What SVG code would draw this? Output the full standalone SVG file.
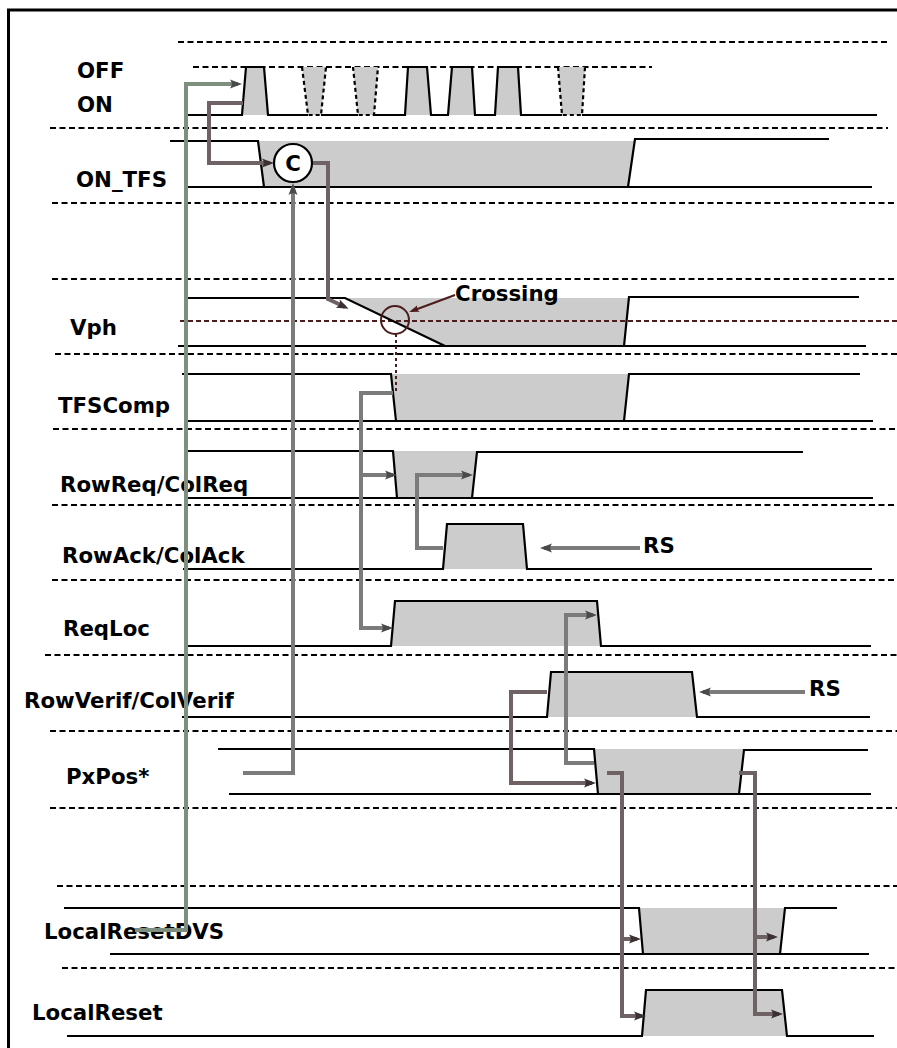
<svg xmlns="http://www.w3.org/2000/svg" width="897" height="1048" viewBox="0 0 897 1048">
<defs>
<style>
.lbl{font-family:"DejaVu Sans","Noto Sans",sans-serif;font-weight:bold;font-size:21.3px;fill:#000}
.sig{fill:none;stroke:#000;stroke-width:2.2;stroke-linejoin:miter}
.gf{fill:#cccccc;stroke:none}
.grid{fill:none;stroke:#000;stroke-width:2;stroke-dasharray:6,3.5}
.dp{fill:none;stroke:#000;stroke-width:2.2;stroke-dasharray:4,3}
.cg{fill:none;stroke:#7b7b7b;stroke-width:4;marker-end:url(#aG)}
.cm{fill:none;stroke:#6e6265;stroke-width:4;marker-end:url(#aM)}
.cgr{fill:none;stroke:#7e8e7f;stroke-width:4;marker-end:url(#aG)}
.red{fill:none;stroke:#4d1c1c;stroke-width:2}
</style>
<marker id="aG" viewBox="-9 -5 14 10" refX="0" refY="0" markerWidth="14" markerHeight="10" markerUnits="userSpaceOnUse" orient="auto"><path d="M4,0 L-8,-4.5 Q-4.5,0 -8,4.5 Z" fill="#4a4a4a"/></marker>
<marker id="aM" viewBox="-9 -5 14 10" refX="0" refY="0" markerWidth="14" markerHeight="10" markerUnits="userSpaceOnUse" orient="auto"><path d="M4,0 L-8,-4.5 Q-4.5,0 -8,4.5 Z" fill="#3b3032"/></marker>
<marker id="aR" viewBox="-9 -5 14 10" refX="0" refY="0" markerWidth="14" markerHeight="10" markerUnits="userSpaceOnUse" orient="auto"><path d="M3,0 L-7,-3.5 Q-4,0 -7,3.5 Z" fill="#4d1c1c"/></marker>
</defs>

<rect x="0" y="0" width="897" height="1048" fill="#fff"/>
<rect x="8.5" y="10" width="900" height="1060" fill="none" stroke="#000" stroke-width="3"/>

<g id="grid">
<path class="grid" d="M178,42H890 M50,128H888 M52,203H897 M52,279H897 M55,354H897 M53,429H897 M52,505H897 M52,580H897 M45,655H897 M50,731H897 M50,808H897 M57,886H897 M62,968H897"/>
</g>

<g id="sig-onoff">
<path class="grid" d="M193,67H652"/>
<path class="gf" d="M242,115L246,67H264L268,115Z M405,115L408,67H427L431,115Z M448,115L452,67H472L475,115Z M495,115L498,67H518L521,115Z"/>
<path class="gf" d="M302,67H326L321,115H308Z M353,67H378L374,115H358Z M558,67H585L582,115H562Z"/>
<path class="dp" d="M302,67L308,115H321L326,67 M353,67L358,115H374L378,67 M558,67L562,115H582L585,67"/>
<path class="sig" d="M185,115H242L246,67H264L268,115H308 M321,115H358 M374,115H405L408,67H427L431,115H448L452,67H472L475,115H495L498,67H518L521,115H562 M582,115H877"/>
<text class="lbl" x="77" y="78">OFF</text>
<text class="lbl" x="77" y="112">ON</text>
</g>

<g id="sig-ontfs">
<path class="gf" d="M258,141H635L628,187H264Z"/>
<path class="sig" d="M170,141H258L264,187 M185,187H872 M628,187L635,139H829"/>
<text class="lbl" x="76" y="187">ON_TFS</text>
</g>

<g id="sig-vph">
<path class="gf" d="M345,298H629L624,346H445Z"/>
<path class="red" stroke-dasharray="5,3" d="M180,321H897"/>
<path class="sig" d="M185,298H345L445,346 M178,346H866 M624,346L629,297H859"/>
<text class="lbl" x="70" y="335">Vph</text>
</g>

<g id="sig-tfscomp">
<path class="gf" d="M391,374H629L624,421H396Z"/>
<path class="sig" d="M182,374H391L396,421 M185,421H873 M624,421L629,374H860"/>
<text class="lbl" x="58" y="413">TFSComp</text>
</g>

<g id="sig-rowreq">
<path class="gf" d="M393,451H477L472,498H397Z"/>
<path class="sig" d="M188,451H393L397,498 M185,498H873 M472,498L477,452H803"/>
<text class="lbl" x="60" y="492">RowReq/ColReq</text>
</g>

<g id="sig-rowack">
<path class="gf" d="M443,569L447,524H523L527,569Z"/>
<path class="sig" d="M183,569H443L447,524H523L527,569H872"/>
<text class="lbl" x="62" y="563">RowAck/ColAck</text>
</g>

<g id="sig-reqloc">
<path class="gf" d="M391,646L395,601H597L601,646Z"/>
<path class="sig" d="M188,646H391L395,601H597L601,646H871"/>
<text class="lbl" x="63" y="636">ReqLoc</text>
</g>

<g id="sig-rowverif">
<path class="gf" d="M547,717L551,672H692L697,717Z"/>
<path class="sig" d="M182,717H547L551,672H692L697,717H870"/>
<text class="lbl" x="24" y="708">RowVerif/ColVerif</text>
</g>

<g id="sig-pxpos">
<path class="gf" d="M594,749H744L739,794H598Z"/>
<path class="sig" d="M218,749H594L598,794 M229,794H871 M739,794L744,750H868"/>
<text class="lbl" x="66" y="784">PxPos*</text>
</g>

<g id="sig-localresetdvs">
<path class="gf" d="M639,908H785L780,954H643Z"/>
<path class="sig" d="M64,908H639L643,954 M110,954H869 M780,954L785,908H837"/>
<text class="lbl" x="44" y="939">LocalResetDVS</text>
</g>

<g id="sig-localreset">
<path class="gf" d="M642,1036L646,990H782L787,1036Z"/>
<path class="sig" d="M67,1036H642L646,990H782L787,1036H874"/>
<text class="lbl" x="32" y="1020">LocalReset</text>
</g>

<g id="connectors">
<path class="cgr" d="M135,930H186V84H238"/>
<path class="cm" d="M243,103H209V163H270"/>
<path class="cm" d="M313,163H328V299L345,307"/>
<path class="cg" d="M243,773H293V187"/>
<path class="cg" d="M393,393H361V628H389"/>
<path class="cg" d="M361,475H393"/>
<path class="cg" d="M443,548H417V475H469"/>
<path class="cg" d="M640,548H544"/>
<path class="cg" d="M594,763H566V615H593"/>
<path class="cm" d="M547,692H511V783H592"/>
<path class="cg" d="M805,692H703"/>
<path class="cm" d="M607,773H622V1016H642"/>
<path class="cm" d="M622,939H637"/>
<path class="cm" d="M739,773H755V1014H779"/>
<path class="cm" d="M755,937H774"/>
</g>

<g id="node-c">
<circle cx="293" cy="163" r="19" fill="#fff" stroke="#000" stroke-width="2.2"/>
<text class="lbl" x="293" y="171" text-anchor="middle">C</text>
</g>

<g id="crossing">
<circle class="red" cx="395" cy="320" r="14"/>
<path class="red" stroke-dasharray="3,3" d="M396,334V392"/>
<path class="red" marker-end="url(#aR)" d="M455,295L412,311"/>
<text class="lbl" x="455" y="301">Crossing</text>
</g>

<g id="rs-labels">
<text class="lbl" x="643" y="553">RS</text>
<text class="lbl" x="809" y="696">RS</text>
</g>
</svg>
